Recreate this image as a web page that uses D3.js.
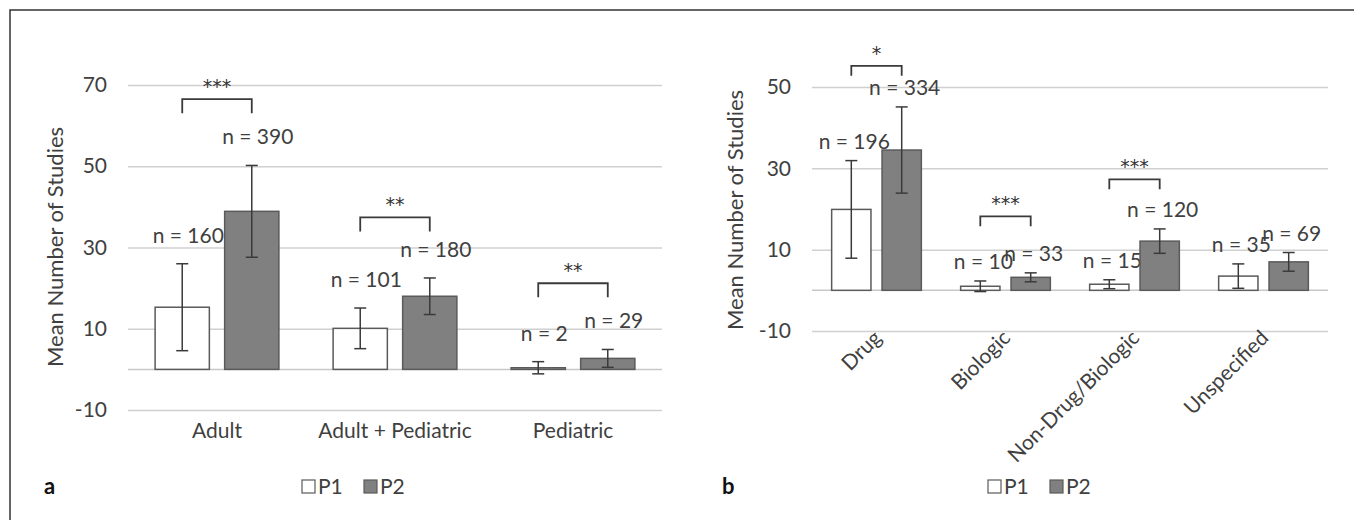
<!DOCTYPE html>
<html>
<head>
<meta charset="utf-8">
<script src="https://cdn.jsdelivr.net/npm/d3@7"></script>
<style>
  body { margin: 0; background: #fff; }
  svg text { font-family: Lato, "Open Sans", sans-serif; fill: #404040; }
</style>
</head>
<body>
<script>
// panel a: by age group
const ageGroups = ["Adult", "Adult + Pediatric", "Pediatric"];
const ageP1 = [15.3, 10.1, 0.4];
const ageP1Err = [10.7, 5.0, 1.5];
const ageP2 = [38.9, 18.0, 2.7];
const ageP2Err = [11.3, 4.5, 2.2];
const ageN1 = [160, 101, 2];
const ageN2 = [390, 180, 29];
const ageSig = ["***", "**", "**"];
const ageSigAt = [66.5, 37.4, 21.2];
const ageTicks = [-10, 10, 30, 50, 70];

// panel b: by intervention type
const typeGroups = ["Drug", "Biologic", "Non-Drug/Biologic", "Unspecified"];
const typeP1 = [19.9, 1.0, 1.5, 3.5];
const typeP1Err = [12.0, 1.3, 1.1, 3.0];
const typeP2 = [34.5, 3.2, 12.1, 7.0];
const typeP2Err = [10.6, 1.1, 3.0, 2.3];
const typeN1 = [196, 10, 15, 35];
const typeN2 = [334, 33, 120, 69];
const typeSig = ["*", "***", "***", ""];
const typeSigAt = [55.2, 18.2, 27.3, null];
const typeTicks = [-10, 10, 30, 50];

const series = ["P1", "P2"];

const svg = d3.select("body")
  .append("svg")
  .attr("width", 1354)
  .attr("height", 520);

// outer frame
svg.append("path")
  .attr("d", "M10,520V10H1354")
  .attr("fill", "none")
  .attr("stroke", "#333")
  .attr("stroke-width", 1.5);

const drawPanel = (p) => {
  const x = d3.scaleBand()
    .domain(p.groups)
    .range(p.xRange);
  const xs = d3.scaleBand()
    .domain(series)
    .range([0, x.bandwidth()])
    .paddingInner(0.22)
    .paddingOuter(0.39);
  const y = d3.scaleLinear()
    .domain(p.yDomain)
    .range(p.yRange);

  const width = p.xRange[1] - p.xRange[0];

  // gridlines + tick labels
  const yAxis = svg.append("g")
    .attr("transform", `translate(${p.xRange[0]},0)`)
    .call(d3.axisLeft(y).tickValues(p.ticks).tickFormat(d => `${d}`)
      .tickSize(-width).tickPadding(21));
  yAxis.select(".domain").remove();
  yAxis.selectAll("line").attr("stroke", "#d0d0d0").attr("stroke-width", 1.5);
  yAxis.selectAll("text").style("font-size", "21px");

  // zero baseline
  svg.append("line")
    .attr("x1", p.xRange[0]).attr("x2", p.xRange[1])
    .attr("y1", y(0)).attr("y2", y(0))
    .attr("stroke", "#c8c8c8")
    .attr("stroke-width", 1.5);

  const rows = p.groups.map((g, i) => ({
    group: g, i,
    bars: [
      { s: "P1", v: p.p1[i], e: p.p1Err[i], n: p.n1[i] },
      { s: "P2", v: p.p2[i], e: p.p2Err[i], n: p.n2[i] }
    ]
  }));

  const grp = svg.selectAll(null)
    .data(rows)
    .join("g")
    .attr("transform", d => `translate(${x(d.group)},0)`);

  const bar = grp.selectAll("g")
    .data(d => d.bars)
    .join("g");

  bar.append("rect")
    .attr("x", d => xs(d.s))
    .attr("width", xs.bandwidth())
    .attr("y", d => y(Math.max(0, d.v)))
    .attr("height", d => Math.abs(y(d.v) - y(0)))
    .attr("fill", d => d.s === "P1" ? "#ffffff" : "#808080")
    .attr("stroke", "#5a5a5a")
    .attr("stroke-width", 1.5);

  // error bars
  const cx = d => xs(d.s) + xs.bandwidth() / 2;
  bar.append("line")
    .attr("x1", cx).attr("x2", cx)
    .attr("y1", d => y(d.v + d.e)).attr("y2", d => y(d.v - d.e))
    .attr("stroke", "#3a3a3a").attr("stroke-width", 1.5);
  [1, -1].forEach(sgn => {
    bar.append("line")
      .attr("x1", d => cx(d) - 6).attr("x2", d => cx(d) + 6)
      .attr("y1", d => y(d.v + sgn * d.e)).attr("y2", d => y(d.v + sgn * d.e))
      .attr("stroke", "#3a3a3a").attr("stroke-width", 1.5);
  });

  // n labels
  bar.append("text")
    .attr("x", d => cx(d) + p.labelDx)
    .attr("y", d => y(d.v + d.e) - p.labelLift)
    .attr("text-anchor", "middle")
    .style("font-size", "21px")
    .text(d => `n = ${d.n}`);

  // significance brackets
  const sigRows = rows.filter(d => p.sig[d.i]);
  const sg = svg.selectAll(null)
    .data(sigRows)
    .join("g")
    .attr("transform", d => `translate(${x(d.group)},0)`);
  const bx1 = xs("P1") + xs.bandwidth() / 2;
  const bx2 = xs("P2") + xs.bandwidth() / 2;
  sg.append("path")
    .attr("d", d => {
      const top = y(p.sigAt[d.i]);
      return `M${bx1},${top + p.leg}V${top}H${bx2}V${top + p.leg}`;
    })
    .attr("fill", "none")
    .attr("stroke", "#3a3a3a")
    .attr("stroke-width", 1.8);
  sg.append("text")
    .attr("x", (bx1 + bx2) / 2)
    .attr("y", d => y(p.sigAt[d.i]) - 6)
    .attr("text-anchor", "middle")
    .style("font-family", "'DejaVu Sans', sans-serif")
    .style("font-size", "19px")
    .style("fill", "#333")
    .text(d => p.sig[d.i]);

  // category labels
  const xAxis = svg.append("g")
    .attr("transform", `translate(0,${p.yRange[0]})`)
    .call(d3.axisBottom(x).tickSize(0).tickPadding(13));
  xAxis.select(".domain").remove();
  xAxis.selectAll("text").style("font-size", "21px");
  if (p.rotate) {
    xAxis.selectAll("text")
      .attr("y", 0)
      .attr("dy", "0.35em")
      .attr("text-anchor", "end")
      .attr("transform", "translate(1,3) rotate(-45)");
  }

  // y title
  svg.append("text")
    .attr("transform", `translate(${p.titleX},${p.titleY}) rotate(-90)`)
    .attr("text-anchor", "middle")
    .style("font-size", "22px")
    .text("Mean Number of Studies");

  // panel letter
  svg.append("text")
    .attr("x", p.letterX).attr("y", 494)
    .style("font-size", "22px")
    .style("font-weight", "bold")
    .style("fill", "#111")
    .text(p.letter);

  // legend
  const lg = svg.append("g")
    .attr("transform", `translate(${p.legendX},480)`);
  const item = lg.selectAll("g")
    .data(series)
    .join("g")
    .attr("transform", (d, i) => `translate(${i * 62},0)`);
  item.append("rect")
    .attr("width", 13).attr("height", 13)
    .attr("fill", d => d === "P1" ? "#fff" : "#808080")
    .attr("stroke", "#5a5a5a")
    .attr("stroke-width", 1.2);
  item.append("text")
    .attr("x", 16).attr("y", 14)
    .style("font-size", "21px")
    .text(d => d);
};

drawPanel({
  groups: ageGroups, p1: ageP1, p1Err: ageP1Err, p2: ageP2, p2Err: ageP2Err,
  n1: ageN1, n2: ageN2, sig: ageSig, sigAt: ageSigAt, ticks: ageTicks,
  xRange: [128, 662], yDomain: [-10, 70], yRange: [410, 85],
  labelDx: 6, labelLift: 21, leg: 14, rotate: false,
  titleX: 63, titleY: 247, letter: "a", letterX: 44, legendX: 302
});

drawPanel({
  groups: typeGroups, p1: typeP1, p1Err: typeP1Err, p2: typeP2, p2Err: typeP2Err,
  n1: typeN1, n2: typeN2, sig: typeSig, sigAt: typeSigAt, ticks: typeTicks,
  xRange: [812, 1328], yDomain: [-10, 50], yRange: [331, 87],
  labelDx: 3, labelLift: 12, leg: 10, rotate: true,
  titleX: 743, titleY: 210, letter: "b", letterX: 722, legendX: 988
});
</script>
</body>
</html>
